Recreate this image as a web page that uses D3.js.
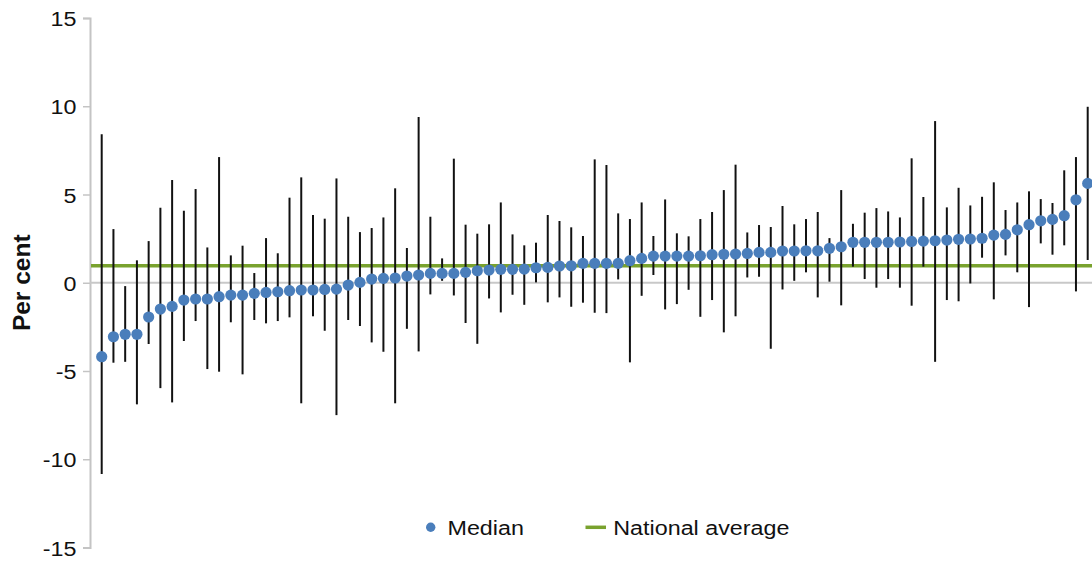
<!DOCTYPE html>
<html>
<head>
<meta charset="utf-8">
<script src="https://cdn.jsdelivr.net/npm/d3@7"></script>
<style>
  body { margin: 0; background: #fff; }
  svg { display: block; font-family: "Liberation Sans", Arial, sans-serif; }
</style>
</head>
<body>
<svg id="chart" width="1092" height="562"></svg>
<script>
// values, sorted by median
const medians = [
  -4.19, -3.06, -2.92, -2.92, -1.94, -1.49, -1.34, -0.98, -0.92, -0.92,
  -0.79, -0.70, -0.70, -0.60, -0.55, -0.51, -0.45, -0.41, -0.41, -0.38,
  -0.36, -0.13, 0.02, 0.21, 0.25, 0.27, 0.38, 0.44, 0.53, 0.53,
  0.53, 0.59, 0.68, 0.72, 0.76, 0.76, 0.77, 0.85, 0.87, 0.95,
  0.96, 1.10, 1.10, 1.10, 1.10, 1.25, 1.38, 1.51, 1.51, 1.51,
  1.51, 1.53, 1.59, 1.61, 1.63, 1.66, 1.72, 1.72, 1.80, 1.80,
  1.81, 1.81, 1.95, 2.04, 2.29, 2.29, 2.29, 2.29, 2.31, 2.34,
  2.36, 2.38, 2.42, 2.46, 2.48, 2.52, 2.70, 2.74, 3.00, 3.29,
  3.51, 3.59, 3.80, 4.70, 5.63
];
const highs = [
  8.41, 3.04, -0.19, 1.27, 2.36, 4.25, 5.82, 4.08, 5.31, 2.00,
  7.12, 1.55, 2.10, 0.55, 2.53, 1.67, 4.82, 5.97, 3.84, 3.63,
  5.91, 3.74, 2.87, 3.10, 3.70, 5.35, 1.97, 9.39, 3.74, 1.38,
  7.03, 3.29, 2.78, 3.31, 4.55, 2.74, 2.12, 2.27, 3.84, 3.50,
  3.14, 2.65, 6.99, 6.67, 3.93, 3.61, 4.55, 2.65, 4.72, 2.80,
  2.63, 3.61, 4.01, 5.25, 6.69, 2.85, 3.27, 3.16, 4.35, 3.31,
  3.61, 4.01, 2.53, 5.25, 3.34, 3.97, 4.23, 4.04, 3.70, 7.05,
  4.86, 9.16, 4.27, 5.38, 4.38, 4.87, 5.69, 4.12, 4.55, 5.18,
  4.74, 4.52, 6.37, 7.12, 9.97
];
const lows = [
  -10.84, -4.53, -4.48, -6.89, -3.47, -5.97, -6.78, -3.30, -2.17, -4.89,
  -5.04, -2.24, -5.19, -2.11, -2.30, -2.17, -1.96, -6.83, -1.90, -2.72,
  -7.50, -2.11, -2.45, -3.38, -3.91, -6.83, -2.61, -3.89, -0.66, 0.11,
  -0.72, -2.28, -3.46, -0.89, -1.68, -0.68, -1.25, 0.02, -1.11, -0.83,
  -1.36, -1.13, -1.70, -1.72, 0.19, -4.51, -0.74, 0.44, -1.51, -1.21,
  -0.40, -1.93, -0.98, -2.81, -1.90, 0.30, 0.34, -3.74, -0.38, 0.11,
  0.59, -0.83, 0.06, -1.28, 0.91, 0.21, -0.28, 0.21, -0.28, -1.30,
  0.91, -4.48, -0.98, -1.05, -0.04, 1.42, -0.94, 1.55, 0.59, -1.38,
  2.23, 1.59, 2.12, -0.49, 1.29
];
const nationalAverage = 0.96;
const yTicks = [-15, -10, -5, 0, 5, 10, 15];

const svg = d3.select("#chart");
const plotLeft = 90, plotTop = 18, plotBottom = 547.5, plotRight = 1092;
const stretch = 1.11; // the reference text is a little wide

const x = d3.scalePoint()
  .domain(d3.range(medians.length))
  .range([101.7, 1087.7]);

const y = d3.scaleLinear()
  .domain([-15, 15])
  .range([plotBottom, plotTop]);

// y axis
const yAxis = d3.axisLeft(y)
  .tickValues(yTicks)
  .tickFormat(d => String(d))
  .tickSize(7)
  .tickPadding(6);

const axisG = svg.append("g")
  .attr("transform", `translate(${plotLeft},0)`)
  .call(yAxis);
axisG.select(".domain").attr("stroke", "#c4c4c4").attr("stroke-width", 2);
axisG.selectAll(".tick line").attr("stroke", "#c4c4c4").attr("stroke-width", 1.5);
axisG.selectAll(".tick text")
  .attr("fill", "#111")
  .style("font-size", "21px")
  .attr("x", -13.5 / stretch)
  .attr("dy", "0.36em")
  .attr("transform", `scale(${stretch},1)`);

// zero line
svg.append("line")
  .attr("x1", plotLeft).attr("x2", plotRight)
  .attr("y1", y(0)).attr("y2", y(0))
  .attr("stroke", "#c8c8c8")
  .attr("stroke-width", 2);

// national average
svg.append("line")
  .attr("x1", plotLeft + 1).attr("x2", plotRight)
  .attr("y1", y(nationalAverage)).attr("y2", y(nationalAverage))
  .attr("stroke", "#79a22e")
  .attr("stroke-width", 3.5);

// ranges
svg.append("g").selectAll("line")
  .data(medians)
  .join("line")
  .attr("x1", (d, i) => x(i))
  .attr("x2", (d, i) => x(i))
  .attr("y1", (d, i) => y(highs[i]))
  .attr("y2", (d, i) => y(lows[i]))
  .attr("stroke", "#111")
  .attr("stroke-width", 2);

// medians
svg.append("g").selectAll("circle")
  .data(medians)
  .join("circle")
  .attr("cx", (d, i) => x(i))
  .attr("cy", d => y(d))
  .attr("r", 5.6)
  .attr("fill", "#4a7ebb");

// axis title
svg.append("text")
  .attr("transform", `translate(30,${y(0)}) rotate(-90)`)
  .attr("text-anchor", "middle")
  .style("font-size", "24.5px")
  .style("font-weight", "bold")
  .attr("fill", "#111")
  .text("Per cent");

// legend
const legend = svg.append("g");
legend.append("circle")
  .attr("cx", 430.7).attr("cy", 527.3)
  .attr("r", 4.7)
  .attr("fill", "#4a7ebb");
legend.append("text")
  .attr("transform", `translate(447.5,527.3) scale(${stretch},1)`)
  .attr("dy", "0.36em")
  .style("font-size", "21px")
  .attr("fill", "#111")
  .text("Median");
legend.append("line")
  .attr("x1", 585.5).attr("x2", 606)
  .attr("y1", 527.3).attr("y2", 527.3)
  .attr("stroke", "#79a22e")
  .attr("stroke-width", 3.5);
legend.append("text")
  .attr("transform", `translate(613.3,527.3) scale(${stretch},1)`)
  .attr("dy", "0.36em")
  .style("font-size", "21px")
  .attr("fill", "#111")
  .text("National average");
</script>
</body>
</html>
